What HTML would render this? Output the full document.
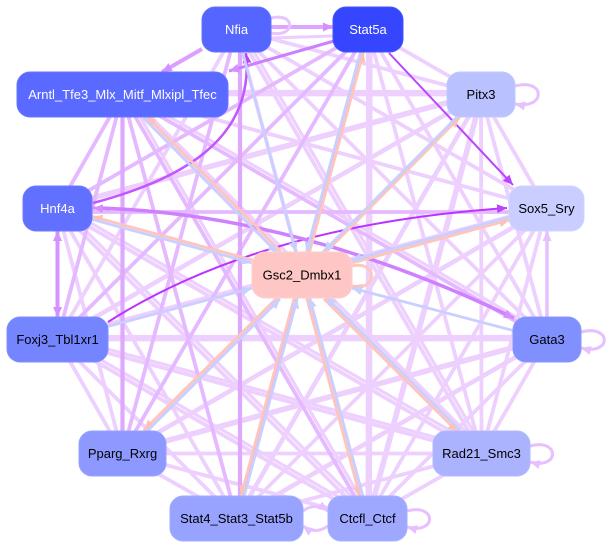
<!DOCTYPE html>
<html><head><meta charset="utf-8"><style>
html,body{margin:0;padding:0;background:#fff;}
svg{display:block;}
text{font-family:"Liberation Sans",Arial,sans-serif;font-size:13px;text-anchor:middle;}
</style></head><body>
<svg width="612" height="548" viewBox="0 0 612 548" xmlns="http://www.w3.org/2000/svg">
<defs>
<marker id="as" markerUnits="userSpaceOnUse" markerWidth="11" markerHeight="9" refX="10" refY="4.5" orient="auto"><path d="M0,0 L10,4.5 L0,9 z" fill="#ffc0b6"/></marker>
<marker id="ab" markerUnits="userSpaceOnUse" markerWidth="11" markerHeight="9" refX="10" refY="4.5" orient="auto"><path d="M0,0 L10,4.5 L0,9 z" fill="#c9cfff"/></marker>
<marker id="av" markerUnits="userSpaceOnUse" markerWidth="11" markerHeight="9" refX="10" refY="4.5" orient="auto"><path d="M0,0 L10,4.5 L0,9 z" fill="#e6c0ff"/></marker>
<marker id="ad" markerUnits="userSpaceOnUse" markerWidth="11" markerHeight="9" refX="10" refY="4.5" orient="auto"><path d="M0,0 L10,4.5 L0,9 z" fill="#d590ff"/></marker>
<marker id="ap" markerUnits="userSpaceOnUse" markerWidth="11" markerHeight="9" refX="10" refY="4.5" orient="auto"><path d="M0,0 L10,4.5 L0,9 z" fill="#bb44ff"/></marker>
</defs>

<g stroke="#eed0ff" stroke-width="3.8" fill="none">
<line x1="236.5" y1="29.5" x2="481" y2="94.5"/>
<line x1="236.5" y1="29.5" x2="546.5" y2="208.5"/>
<line x1="236.5" y1="29.5" x2="57.5" y2="339.5"/>
<line x1="236.5" y1="29.5" x2="547" y2="339.5"/>
<line x1="236.5" y1="29.5" x2="481.5" y2="453.5"/>
<line x1="236.5" y1="29.5" x2="367.5" y2="518.5"/>
<line x1="368" y1="29.5" x2="481" y2="94.5"/>
<line x1="368" y1="29.5" x2="547" y2="339.5"/>
<line x1="368" y1="29.5" x2="481.5" y2="453.5"/>
<line x1="368" y1="29.5" x2="367.5" y2="518.5"/>
<line x1="122.5" y1="94.5" x2="481" y2="94.5"/>
<line x1="122.5" y1="94.5" x2="546.5" y2="208.5"/>
<line x1="122.5" y1="94.5" x2="481.5" y2="453.5"/>
<line x1="481" y1="94.5" x2="57.5" y2="208.5"/>
<line x1="481" y1="94.5" x2="546.5" y2="208.5"/>
<line x1="481" y1="94.5" x2="57.5" y2="339.5"/>
<line x1="481" y1="94.5" x2="547" y2="339.5"/>
<line x1="481" y1="94.5" x2="122.5" y2="453.5"/>
<line x1="481" y1="94.5" x2="481.5" y2="453.5"/>
<line x1="481" y1="94.5" x2="236.5" y2="518.5"/>
<line x1="481" y1="94.5" x2="367.5" y2="518.5"/>
<line x1="57.5" y1="208.5" x2="122.5" y2="453.5"/>
<line x1="57.5" y1="208.5" x2="481.5" y2="453.5"/>
<line x1="57.5" y1="208.5" x2="236.5" y2="518.5"/>
<line x1="57.5" y1="208.5" x2="367.5" y2="518.5"/>
<line x1="546.5" y1="208.5" x2="122.5" y2="453.5"/>
<line x1="546.5" y1="208.5" x2="481.5" y2="453.5"/>
<line x1="546.5" y1="208.5" x2="236.5" y2="518.5"/>
<line x1="546.5" y1="208.5" x2="367.5" y2="518.5"/>
<line x1="546.5" y1="208.5" x2="57.5" y2="339.5"/>
<line x1="57.5" y1="339.5" x2="547" y2="339.5"/>
<line x1="57.5" y1="339.5" x2="122.5" y2="453.5"/>
<line x1="57.5" y1="339.5" x2="481.5" y2="453.5"/>
<line x1="57.5" y1="339.5" x2="236.5" y2="518.5"/>
<line x1="57.5" y1="339.5" x2="367.5" y2="518.5"/>
<line x1="547" y1="339.5" x2="122.5" y2="453.5"/>
<line x1="547" y1="339.5" x2="481.5" y2="453.5"/>
<line x1="547" y1="339.5" x2="236.5" y2="518.5"/>
<line x1="547" y1="339.5" x2="367.5" y2="518.5"/>
<line x1="122.5" y1="453.5" x2="481.5" y2="453.5"/>
<line x1="122.5" y1="453.5" x2="236.5" y2="518.5"/>
<line x1="122.5" y1="453.5" x2="367.5" y2="518.5"/>
<line x1="481.5" y1="453.5" x2="236.5" y2="518.5"/>
<line x1="481.5" y1="453.5" x2="367.5" y2="518.5"/>
</g>
<g stroke="#eed0ff" stroke-width="3.2" fill="none" transform="translate(3,-3)">
<line x1="481" y1="94.5" x2="122.5" y2="94.5"/>
<line x1="481" y1="94.5" x2="57.5" y2="208.5"/>
<line x1="481" y1="94.5" x2="57.5" y2="339.5"/>
<line x1="481" y1="94.5" x2="122.5" y2="453.5"/>
<line x1="481" y1="94.5" x2="236.5" y2="518.5"/>
<line x1="481" y1="94.5" x2="367.5" y2="518.5"/>
<line x1="546.5" y1="208.5" x2="57.5" y2="339.5"/>
<line x1="546.5" y1="208.5" x2="122.5" y2="453.5"/>
<line x1="546.5" y1="208.5" x2="236.5" y2="518.5"/>
<line x1="547" y1="339.5" x2="57.5" y2="339.5"/>
<line x1="547" y1="339.5" x2="122.5" y2="453.5"/>
<line x1="547" y1="339.5" x2="122.5" y2="94.5"/>
<line x1="481.5" y1="453.5" x2="57.5" y2="208.5"/>
<line x1="481.5" y1="453.5" x2="57.5" y2="339.5"/>
<line x1="481.5" y1="453.5" x2="122.5" y2="94.5"/>
<line x1="367.5" y1="518.5" x2="122.5" y2="94.5"/>
<line x1="367.5" y1="518.5" x2="57.5" y2="208.5"/>
<line x1="367.5" y1="518.5" x2="57.5" y2="339.5"/>
<line x1="236.5" y1="518.5" x2="547" y2="339.5"/>
<line x1="236.5" y1="29.5" x2="481.5" y2="453.5"/>
<line x1="368" y1="29.5" x2="367.5" y2="518.5"/>
<line x1="368" y1="29.5" x2="57.5" y2="339.5"/>
</g>
<g stroke="#e5b9ff" stroke-width="3.8" fill="none">
<line x1="236.5" y1="29.5" x2="122.5" y2="453.5"/>
<line x1="368" y1="29.5" x2="57.5" y2="208.5"/>
<line x1="368" y1="29.5" x2="57.5" y2="339.5"/>
<line x1="368" y1="29.5" x2="122.5" y2="453.5"/>
<line x1="122.5" y1="94.5" x2="57.5" y2="208.5"/>
<line x1="122.5" y1="94.5" x2="57.5" y2="339.5"/>
<line x1="122.5" y1="94.5" x2="547" y2="339.5"/>
<line x1="122.5" y1="94.5" x2="236.5" y2="518.5"/>
<line x1="122.5" y1="94.5" x2="367.5" y2="518.5"/>
<line x1="57.5" y1="212" x2="546.5" y2="212"/>
</g>
<g stroke="#dea8ff" stroke-width="4.2" fill="none">
<line x1="240" y1="29.5" x2="240" y2="518.5"/>
<line x1="368" y1="29.5" x2="236.5" y2="518.5"/>
<line x1="122.5" y1="94.5" x2="122.5" y2="453.5"/>
</g>
<line x1="202" y1="49" x2="162" y2="72" stroke="#dc9eff" stroke-width="4" marker-end="url(#ad)"/>
<line x1="334" y1="41" x2="229" y2="71" stroke="#cc7fff" stroke-width="3" marker-end="url(#ad)"/>
<line x1="271" y1="27" x2="333" y2="27" stroke="#dea4ff" stroke-width="4" marker-end="url(#ad)"/>
<line x1="333" y1="36" x2="271" y2="38" stroke="#eccdff" stroke-width="3"/>
<path d="M271,18 C296,12 296,38 271,33" stroke="#e8c4ff" stroke-width="3" fill="none"/>

<path d="M515,86 C546,78 546,110 515,104" stroke="#e6c0ff" stroke-width="3" fill="none" marker-end="url(#av)"/>
<path d="M581,332 C612,324 612,356 581,348" stroke="#e6c0ff" stroke-width="3" fill="none" marker-end="url(#av)"/>
<path d="M530,446 C560,438 560,470 530,462" stroke="#e6c0ff" stroke-width="3" fill="none" marker-end="url(#av)"/>
<path d="M407,511 C437,503 437,535 407,527" stroke="#e6c0ff" stroke-width="3" fill="none" marker-end="url(#av)"/>
<path d="M352,266 C378,260 378,292 352,286" stroke="#ffc8bd" stroke-width="3" fill="none" marker-end="url(#as)"/>
<path d="M303,511 Q315,502 328,511" stroke="#e8c4ff" stroke-width="3" fill="none" marker-end="url(#av)"/>
<path d="M328,526 Q315,535 303,526" stroke="#e8c4ff" stroke-width="3" fill="none" marker-end="url(#av)"/>

<line x1="547" y1="317" x2="547" y2="231" stroke="#e6c0ff" stroke-width="3.5" marker-end="url(#av)"/>
<line x1="57.5" y1="240" x2="57.5" y2="317" stroke="#d594ff" stroke-width="4" marker-end="url(#ad)"/>
<line x1="57.5" y1="300" x2="57.5" y2="231" stroke="#d594ff" stroke-width="4" marker-end="url(#ad)"/>

<path d="M93,203 C180,180 255,140 246,53" stroke="#c455ff" stroke-width="2.5" fill="none" marker-end="url(#ap)"/>
<path d="M108,322 Q260,225 507,208" stroke="#bb33ff" stroke-width="2" fill="none" marker-end="url(#ap)"/>
<path d="M100,208 Q300,215 514,318" stroke="#cf80ff" stroke-width="3.5" fill="none" marker-end="url(#ad)"/>
<line x1="110" y1="209" x2="93" y2="208" stroke="#cf80ff" stroke-width="3" marker-end="url(#ad)"/>
<line x1="389" y1="53" x2="513" y2="185" stroke="#bb44ff" stroke-width="2" marker-end="url(#ap)"/>

<g fill="none" stroke-width="2.8">
<line x1="242.5" y1="52" x2="295.9" y2="252" stroke="#c9cfff" marker-end="url(#ab)"/>
<line x1="309.5" y1="252" x2="363.5" y2="52" stroke="#ffc4bb" marker-end="url(#as)"/>
<line x1="360.5" y1="52" x2="306.5" y2="252" stroke="#c9cfff" marker-end="url(#ab)"/>
<line x1="280.5" y1="251" x2="146.5" y2="116" stroke="#ffc4bb" marker-end="url(#as)"/>
<line x1="143.5" y1="118" x2="277.5" y2="253" stroke="#c9cfff" marker-end="url(#ab)"/>
<line x1="325.5" y1="252.5" x2="459.5" y2="117.5" stroke="#ffc4bb" marker-end="url(#as)"/>
<line x1="457.5" y1="116.5" x2="323.5" y2="251.5" stroke="#c9cfff" marker-end="url(#ab)"/>
<line x1="252.4" y1="260" x2="92.4" y2="216.5" stroke="#ffc4bb" marker-end="url(#as)"/>
<line x1="91.6" y1="219.3" x2="251.6" y2="262.8" stroke="#c9cfff" marker-end="url(#ab)"/>
<line x1="352.4" y1="262.8" x2="509.4" y2="220" stroke="#ffc4bb" marker-end="url(#as)"/>
<line x1="508.6" y1="217.3" x2="351.6" y2="260" stroke="#c9cfff" marker-end="url(#ab)"/>
<line x1="108" y1="326.2" x2="252" y2="288.2" stroke="#c9cfff" marker-end="url(#ab)"/>
<line x1="513" y1="330.5" x2="352" y2="288.1" stroke="#c9cfff" marker-end="url(#ab)"/>
<line x1="277.8" y1="297" x2="144" y2="430" stroke="#ffc4bb" marker-end="url(#as)"/>
<line x1="146.2" y1="432" x2="280" y2="299" stroke="#c9cfff" marker-end="url(#ab)"/>
<line x1="324" y1="299" x2="457.8" y2="432" stroke="#ffc4bb" marker-end="url(#as)"/>
<line x1="460" y1="430" x2="326.2" y2="297" stroke="#c9cfff" marker-end="url(#ab)"/>
<line x1="294.3" y1="297.6" x2="241.1" y2="495.6" stroke="#ffc4bb" marker-end="url(#as)"/>
<line x1="244.1" y1="496.4" x2="297.3" y2="298.4" stroke="#c9cfff" marker-end="url(#ab)"/>
<line x1="306.8" y1="298.4" x2="360" y2="496.4" stroke="#ffc4bb" marker-end="url(#as)"/>
<line x1="362.8" y1="495.6" x2="309.6" y2="297.6" stroke="#c9cfff" marker-end="url(#ab)"/>
</g>

<g stroke-width="1">
<rect x="202" y="7" width="69" height="45" rx="13" fill="#5565ff" stroke="#6373ff"/>
<rect x="333" y="7" width="70" height="45" rx="13" fill="#3646ff" stroke="#4555ff"/>
<rect x="17" y="72" width="211" height="45" rx="13" fill="#5a69ff" stroke="#6876ff"/>
<rect x="447" y="72" width="68" height="45" rx="13" fill="#b9c1ff" stroke="#c2c9ff"/>
<rect x="23" y="186" width="69" height="45" rx="13" fill="#6170ff" stroke="#6d7bff"/>
<rect x="509" y="186" width="75" height="45" rx="13" fill="#c9cdff" stroke="#d1d5ff"/>
<rect x="252" y="252" width="100" height="46" rx="13" fill="#ffc6c6" stroke="#ffcdcd"/>
<rect x="7" y="317" width="101" height="45" rx="13" fill="#7585ff" stroke="#7f8eff"/>
<rect x="513" y="317" width="68" height="45" rx="13" fill="#8090ff" stroke="#8a99ff"/>
<rect x="79" y="431" width="87" height="45" rx="13" fill="#8d99ff" stroke="#97a2ff"/>
<rect x="433" y="431" width="97" height="45" rx="13" fill="#abb3ff" stroke="#b3baff"/>
<rect x="170" y="496" width="133" height="45" rx="13" fill="#97a3ff" stroke="#a0abff"/>
<rect x="328" y="496" width="79" height="45" rx="13" fill="#9ea8ff" stroke="#a7b0ff"/>
</g>
<text x="236.5" y="34" fill="#ffffff">Nfia</text>
<text x="368" y="34" fill="#ffffff">Stat5a</text>
<text x="122.5" y="99" fill="#ffffff">Arntl_Tfe3_Mlx_Mitf_Mlxipl_Tfec</text>
<text x="481" y="99" fill="#000000">Pitx3</text>
<text x="57.5" y="213" fill="#ffffff">Hnf4a</text>
<text x="546.5" y="213" fill="#000000">Sox5_Sry</text>
<text x="302" y="279.5" fill="#000000">Gsc2_Dmbx1</text>
<text x="57.5" y="344" fill="#000000">Foxj3_Tbl1xr1</text>
<text x="547" y="344" fill="#000000">Gata3</text>
<text x="122.5" y="458" fill="#000000">Pparg_Rxrg</text>
<text x="481.5" y="458" fill="#000000">Rad21_Smc3</text>
<text x="236.5" y="523" fill="#000000">Stat4_Stat3_Stat5b</text>
<text x="367.5" y="523" fill="#000000">Ctcfl_Ctcf</text>
</svg>
</body></html>
